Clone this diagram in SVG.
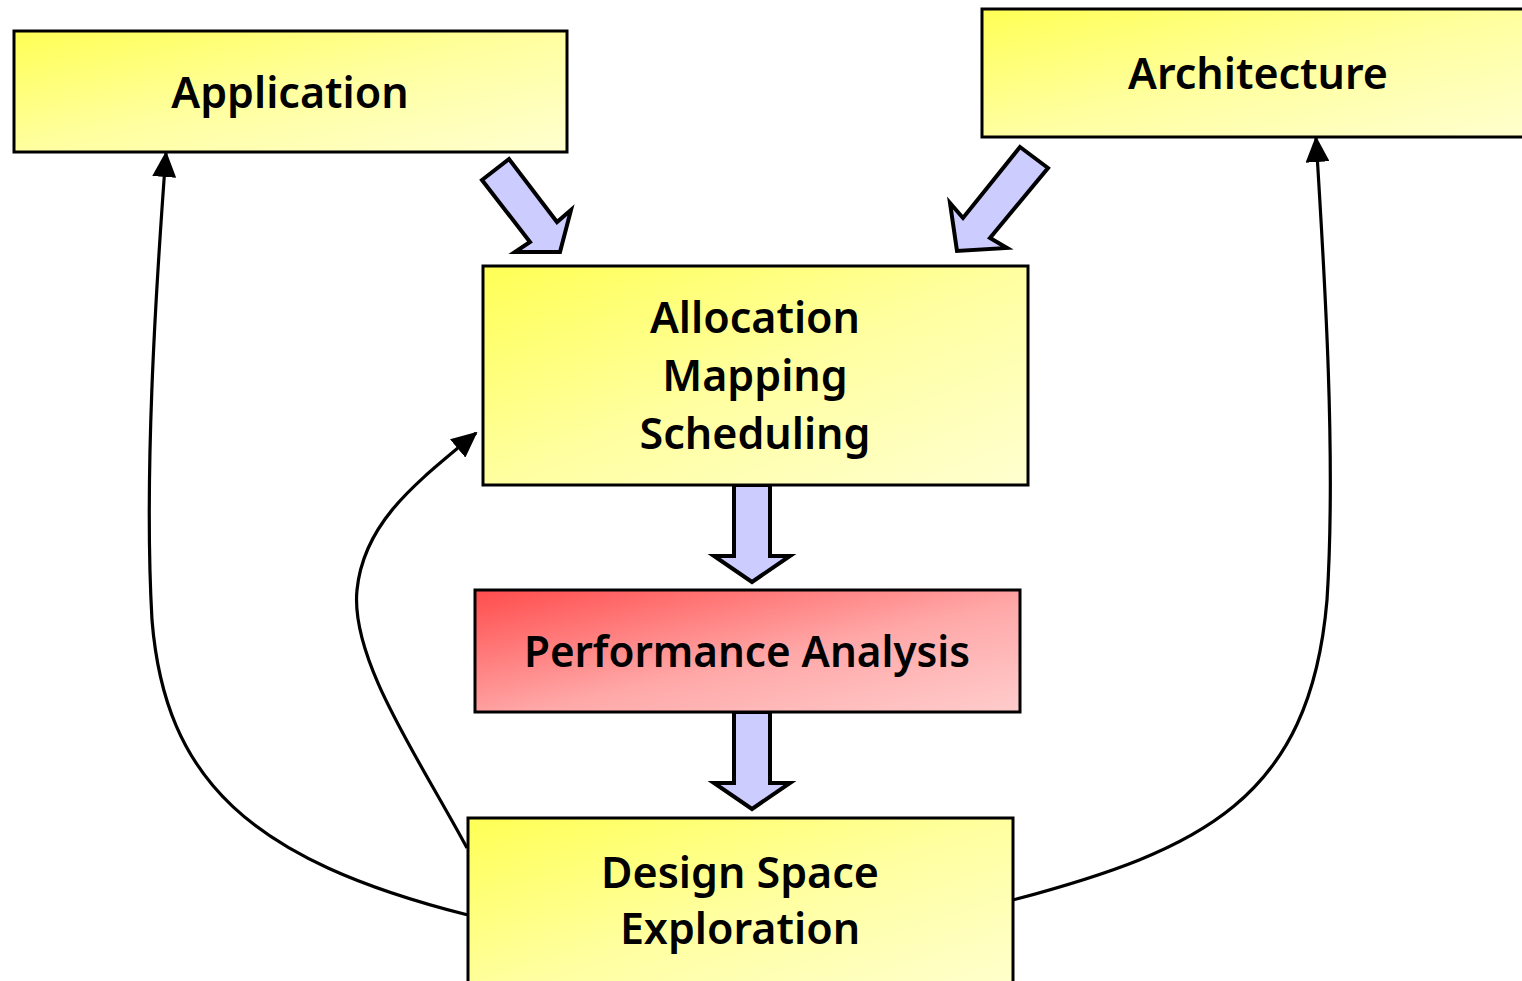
<svg xmlns="http://www.w3.org/2000/svg" width="1522" height="981" viewBox="0 0 1522 981">
<defs>
<linearGradient id="yel" x1="0" y1="0" x2="1" y2="1">
<stop offset="0" stop-color="#ffff55"/>
<stop offset="0.5" stop-color="#ffffa0"/>
<stop offset="1" stop-color="#ffffd0"/>
</linearGradient>
<linearGradient id="red" x1="0" y1="0" x2="1" y2="1">
<stop offset="0" stop-color="#ff4c4c"/>
<stop offset="0.55" stop-color="#ffa8a8"/>
<stop offset="1" stop-color="#ffcccc"/>
</linearGradient>
<marker id="ah" markerUnits="userSpaceOnUse" markerWidth="26" markerHeight="24" viewBox="0 0 26 24" refX="24" refY="12" orient="auto">
<path d="M0,0 L26,12 L0,24 Z" fill="#000"/>
</marker>
<style>
.box{stroke:#000;stroke-width:3}
.lbl{font-family:"Noto Sans","Open Sans","Liberation Sans",sans-serif;font-weight:600;font-size:43px;fill:#000;text-anchor:middle}
.blk{fill:#ccccff;stroke:#000;stroke-width:4;stroke-linejoin:miter}
.cur{fill:none;stroke:#000;stroke-width:3.2}
</style>
</defs>
<rect width="1522" height="981" fill="#fff"/>
<g id="connectors">
<polygon class="blk" points="482,180 509,159 557,222 571,210 560,252 515,252 530,242"/>
<polygon class="blk" points="1020,147 1048,168 990,238 1007,248 957,251 950,203 963,218"/>
<polygon class="blk" points="734,485 770,485 770,556 790,556 752,582 714,556 734,556"/>
<polygon class="blk" points="734,712 770,712 770,783 790,783 752,809 714,783 734,783"/>
<path class="cur" marker-end="url(#ah)" d="M468,915 C250,860 165,780 152,620 C144,480 155,300 166,153"/>
<path class="cur" marker-end="url(#ah)" d="M467,848 C420,760 350,660 357,590 C364,520 420,480 476,433"/>
<path class="cur" marker-end="url(#ah)" d="M1013,900 C1200,850 1310,800 1327,600 C1336,460 1325,280 1316,138"/>
</g>
<g id="application">
<rect class="box" x="14" y="31" width="553" height="121" fill="url(#yel)"/>
<text class="lbl" x="290" y="108">Application</text>
</g>
<g id="architecture">
<rect class="box" x="982" y="9" width="560" height="128" fill="url(#yel)"/>
<text class="lbl" x="1258" y="89">Architecture</text>
</g>
<g id="allocation">
<rect class="box" x="483" y="266" width="545" height="219" fill="url(#yel)"/>
<text class="lbl" x="755" y="333">Allocation</text>
<text class="lbl" x="755" y="391">Mapping</text>
<text class="lbl" x="755" y="449">Scheduling</text>
</g>
<g id="performance">
<rect class="box" x="475" y="590" width="545" height="122" fill="url(#red)"/>
<text class="lbl" x="747" y="667" textLength="446" lengthAdjust="spacingAndGlyphs">Performance Analysis</text>
</g>
<g id="dse">
<rect class="box" x="468" y="818" width="545" height="180" fill="url(#yel)"/>
<text class="lbl" x="740" y="888">Design Space</text>
<text class="lbl" x="740" y="944">Exploration</text>
</g>
</svg>
